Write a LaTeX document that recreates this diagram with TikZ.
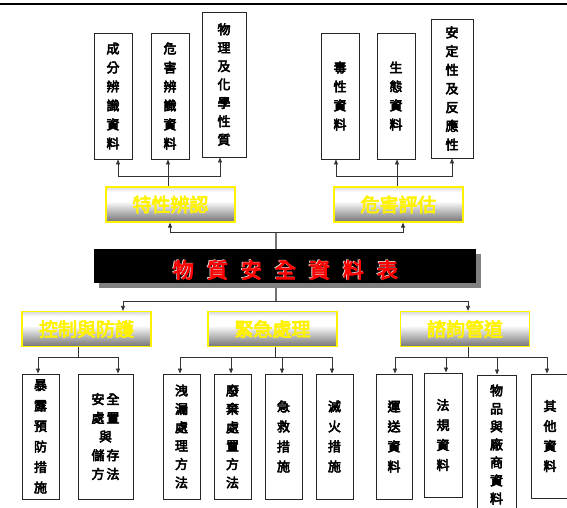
\documentclass[tikz,border=0pt]{standalone}
\usepackage{fontspec}
\newfontfamily\cjk[FakeBold=4]{Noto Sans CJK TC}
\usetikzlibrary{arrows.meta,shadings}
\pgfdeclareverticalshading{midshade}{100bp}{color(0bp)=(black!55); color(25bp)=(black!55); color(55bp)=(white); color(68bp)=(white); color(75bp)=(black!15); color(100bp)=(black!15)}
\begin{document}
\begin{tikzpicture}[x=1pt,y=-1pt,
  leaf/.style={draw=black!85,line width=0.9pt,fill=white,inner sep=0pt,align=center,
    font={\cjk\fontsize{13}{19}\selectfont}},
  mid/.style={draw=yellow,line width=1.2pt,shading=midshade,inner sep=0pt,
    minimum width=129pt,minimum height=35pt,text=yellow,font={\cjk\fontsize{19}{19}\selectfont}},
  ln/.style={draw=black!80,line width=0.8pt},
  ar/.style={ln,-{Triangle[length=5pt,width=4pt]}},
  stem/.style={draw=black!55,line width=1.6pt},
  ttl/.style={font={\cjk\fontsize{21}{21}\selectfont}}
]
\useasboundingbox (0,0) rectangle (567,507);
% top rule
\draw[line width=2.4pt] (0,4) -- (567,4);

% top leaves
\node[leaf,minimum width=38pt,minimum height=126pt] (b1) at (113,96) {成\\分\\辨\\識\\資\\料};
\node[leaf,minimum width=38pt,minimum height=126pt] (b2) at (170,96) {危\\害\\辨\\識\\資\\料};
\node[leaf,minimum width=44pt,minimum height=145pt,font={\cjk\fontsize{13}{18.4}\selectfont}] (b3) at (224,84.5) {物\\理\\及\\化\\學\\性\\質};
\node[leaf,minimum width=38pt,minimum height=126pt] (b4) at (340,96) {毒\\性\\資\\料};
\node[leaf,minimum width=38pt,minimum height=126pt] (b5) at (396,96) {生\\態\\資\\料};
\node[leaf,minimum width=42pt,minimum height=139pt,font={\cjk\fontsize{13}{18.7}\selectfont}] (b6) at (452,88.5) {安\\定\\性\\及\\反\\應\\性};

% mid upper
\node[mid] (m1) at (170.5,204.5) {特性辨認};
\node[mid] (m2) at (398.5,204.5) {危害評估};

% connectors top
\coordinate (j1) at (168,176);
\coordinate (j1b) at (397,176);
\draw[ln] (j1 |- m1.north) -- (j1);
\draw[ar] (j1) -| ([xshift=5pt]b1.south);
\draw[ar] (j1) -- (j1 |- b2.south);
\draw[ar] (j1) -| ([xshift=-4pt]b3.south);
\draw[ln] (j1b |- m2.north) -- (j1b);
\draw[ar] (j1b) -| ([xshift=-4pt]b4.south);
\draw[ar] (j1b) -- (j1b |- b5.south);
\draw[ar] (j1b) -| (b6.south);

% title stem
\coordinate (j0) at (276,232);
\coordinate (j2) at (276,301);
\draw[stem] (j0) -- (j2);
\draw[ar] (j0) -| ([xshift=-0.5pt]m1.south);
\draw[ar] (j0) -| ([xshift=4.5pt]m2.south);

% title
\fill[black!50] (99,254) rectangle (481,288);
\node[fill=black,minimum width=382pt,minimum height=34pt,inner sep=0pt] (title) at (285,266) {};
\node[ttl,text=white!85!black] at (284.6,269.4) {物\hspace{13pt}質\hspace{13pt}安\hspace{13pt}全\hspace{13pt}資\hspace{13pt}料\hspace{13pt}表};
\node[ttl,text=red] (tt) at (285.5,270) {物\hspace{13pt}質\hspace{13pt}安\hspace{13pt}全\hspace{13pt}資\hspace{13pt}料\hspace{13pt}表};

% mid lower
\node[mid] (l1) at (86.5,329) {控制與防護};
\node[mid] (l2) at (272.5,329) {緊急處理};
\node[mid] (l3) at (465,329) {諮詢管道};
\draw[ar] (j2) -| ([xshift=36.5pt]l1.north);
\draw[ar] (j2) -| ([xshift=3pt]l3.north);

% bottom leaves
\node[leaf,minimum width=37pt,minimum height=125pt,font={\cjk\fontsize{13}{20.5}\selectfont}] (c1) at (40.5,436.5) {暴\\露\\預\\防\\措\\施};
\node[leaf,minimum width=55pt,minimum height=125pt,font={\cjk\fontsize{13}{18.7}\selectfont}] (c2) at (105.5,436.5) {安\hspace{2pt}全\\處\hspace{2pt}置\\與\\儲\hspace{2pt}存\\方\hspace{2pt}法};
\node[leaf,minimum width=37pt,minimum height=125pt,font={\cjk\fontsize{13}{18.4}\selectfont}] (c3) at (181.5,436.5) {洩\\漏\\處\\理\\方\\法};
\node[leaf,minimum width=37pt,minimum height=125pt,font={\cjk\fontsize{13}{18.4}\selectfont}] (c4) at (232.5,436.5) {廢\\棄\\處\\置\\方\\法};
\node[leaf,minimum width=37pt,minimum height=125pt,font={\cjk\fontsize{13}{20}\selectfont}] (c5) at (283.5,436.5) {急\\救\\措\\施};
\node[leaf,minimum width=37pt,minimum height=125pt,font={\cjk\fontsize{13}{20}\selectfont}] (c6) at (334.5,436.5) {滅\\火\\措\\施};
\node[leaf,minimum width=36pt,minimum height=125pt,font={\cjk\fontsize{13}{20}\selectfont}] (c7) at (394,436.5) {運\\送\\資\\料};
\node[leaf,minimum width=38pt,minimum height=124pt,font={\cjk\fontsize{13}{20}\selectfont}] (c8) at (443,435) {法\\規\\資\\料};
\node[leaf,minimum width=39pt,minimum height=145pt] (c9) at (496.5,447.5) {};
\node[align=center,inner sep=0pt,font={\cjk\fontsize{13}{18}\selectfont}] (c9t) at (496.5,444.5) {物\\品\\與\\廠\\商\\資\\料};
\node[leaf,minimum width=38pt,minimum height=124pt,font={\cjk\fontsize{13}{20}\selectfont}] (c10) at (550,436) {其\\他\\資\\料};

% bottom connectors
\coordinate (k1) at (78,357);
\coordinate (k2) at (275,357);
\coordinate (k3) at (468,357);
\draw[ln] (k1 |- l1.south) -- (k1);
\draw[ar] (k1) -| ([xshift=-2.5pt]c1.north);
\draw[ar] (k1) -| ([xshift=12.5pt]c2.north);
\draw[ln] (k2 |- l2.south) -- (k2);
\draw[ar] (k2) -| ([xshift=-1.5pt]c3.north);
\draw[ar] (k2) -| ([xshift=-1.5pt]c4.north);
\draw[ar] (k2) -| ([xshift=-1.5pt]c5.north);
\draw[ar] (k2) -| ([xshift=-2.5pt]c6.north);
\draw[ln] (k3 |- l3.south) -- (k3);
\draw[ar] (k3) -| ([xshift=1pt]c7.north);
\draw[ar] (k3) -| ([xshift=3pt]c8.north);
\draw[ar] (k3) -| ([xshift=0.5pt]c9.north);
\draw[ar] (k3) -| ([xshift=-3pt]c10.north);
\end{tikzpicture}
\end{document}
